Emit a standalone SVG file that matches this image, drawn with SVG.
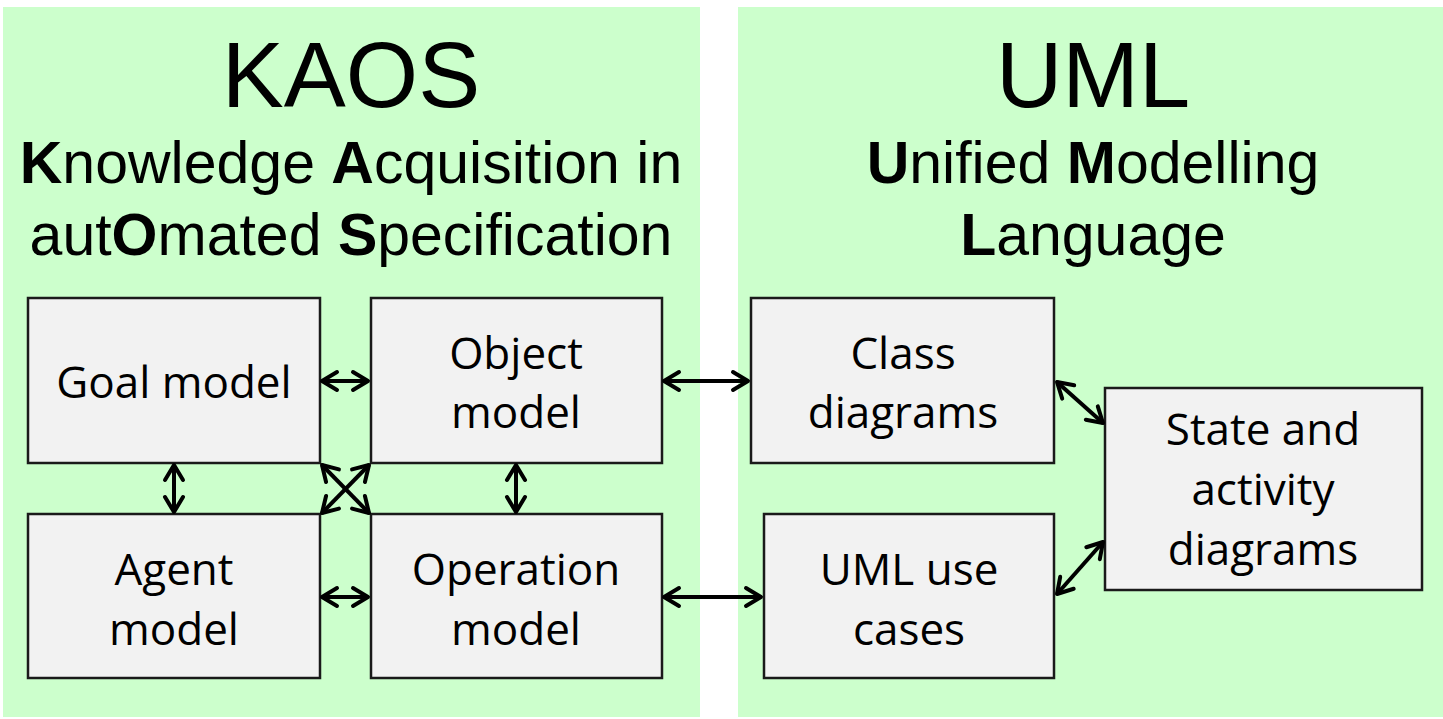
<svg xmlns="http://www.w3.org/2000/svg" width="1443" height="719" viewBox="0 0 1443 719">
<defs>
<style>
.panel{fill:#ccffcc}
.box{fill:#f2f2f2;stroke:#1a1a1a;stroke-width:2.5}
.title{font-family:"Liberation Sans",Arial,sans-serif;fill:#000;text-anchor:middle}
.lbl{font-family:"Open Sans","Noto Sans",sans-serif;font-size:44px;fill:#000;text-anchor:middle}
.conn{stroke:#000;stroke-width:4;fill:none;marker-start:url(#ah);marker-end:url(#ah)}
</style>
<marker id="ah" markerUnits="userSpaceOnUse" viewBox="-20 -12 24 24" markerWidth="24" markerHeight="24" refX="0" refY="0" orient="auto-start-reverse">
<path d="M-15,-9 L0,0 L-15,9" fill="none" stroke="#000" stroke-width="4" stroke-linecap="round" stroke-linejoin="round"/>
</marker>
</defs>
<rect width="1443" height="719" fill="#fff"/>
<rect class="panel" x="3" y="7" width="697" height="710"/>
<rect class="panel" x="738" y="7" width="705" height="710"/>

<g id="kaos-title">
<text class="title" x="351" y="107" font-size="93">KAOS</text>
<text class="title" x="351" y="183" font-size="59"><tspan font-weight="bold">K</tspan>nowledge <tspan font-weight="bold">A</tspan>cquisition in</text>
<text class="title" x="351" y="255" font-size="59">aut<tspan font-weight="bold">O</tspan>mated <tspan font-weight="bold">S</tspan>pecification</text>
</g>
<g id="uml-title">
<text class="title" x="1093" y="107" font-size="92">UML</text>
<text class="title" x="1093" y="183" font-size="59"><tspan font-weight="bold">U</tspan>nified <tspan font-weight="bold">M</tspan>odelling</text>
<text class="title" x="1093" y="255" font-size="59"><tspan font-weight="bold">L</tspan>anguage</text>
</g>

<g id="goal-model">
<rect class="box" x="28" y="298" width="292" height="165"/>
<text class="lbl" x="174" y="398">Goal model</text>
</g>
<g id="object-model">
<rect class="box" x="371" y="298" width="291" height="165"/>
<text class="lbl" x="516" y="369">Object</text>
<text class="lbl" x="516" y="428">model</text>
</g>
<g id="agent-model">
<rect class="box" x="28" y="514" width="292" height="164"/>
<text class="lbl" x="174" y="585">Agent</text>
<text class="lbl" x="174" y="645">model</text>
</g>
<g id="operation-model">
<rect class="box" x="371" y="514" width="291" height="164"/>
<text class="lbl" x="516" y="585">Operation</text>
<text class="lbl" x="516" y="645">model</text>
</g>
<g id="class-diagrams">
<rect class="box" x="751" y="298" width="303" height="165"/>
<text class="lbl" x="903" y="369">Class</text>
<text class="lbl" x="903" y="428">diagrams</text>
</g>
<g id="uml-use-cases">
<rect class="box" x="764" y="514" width="290" height="164"/>
<text class="lbl" x="909" y="585">UML use</text>
<text class="lbl" x="909" y="645">cases</text>
</g>
<g id="state-activity">
<rect class="box" x="1105" y="388" width="317" height="202"/>
<text class="lbl" x="1263" y="445">State and</text>
<text class="lbl" x="1263" y="505">activity</text>
<text class="lbl" x="1263" y="565">diagrams</text>
</g>

<g id="connectors">
<line class="conn" x1="322" y1="381" x2="368" y2="381"/>
<line class="conn" x1="664" y1="381" x2="748" y2="381"/>
<line class="conn" x1="174" y1="465" x2="174" y2="512"/>
<line class="conn" x1="516" y1="465" x2="516" y2="512"/>
<line class="conn" x1="322" y1="597" x2="368" y2="597"/>
<line class="conn" x1="664" y1="597" x2="761" y2="597"/>
<line class="conn" x1="322" y1="465" x2="369" y2="513"/>
<line class="conn" x1="369" y1="465" x2="322" y2="513"/>
<line class="conn" x1="1057" y1="382" x2="1103" y2="423"/>
<line class="conn" x1="1057" y1="594" x2="1103" y2="542"/>
</g>
</svg>
